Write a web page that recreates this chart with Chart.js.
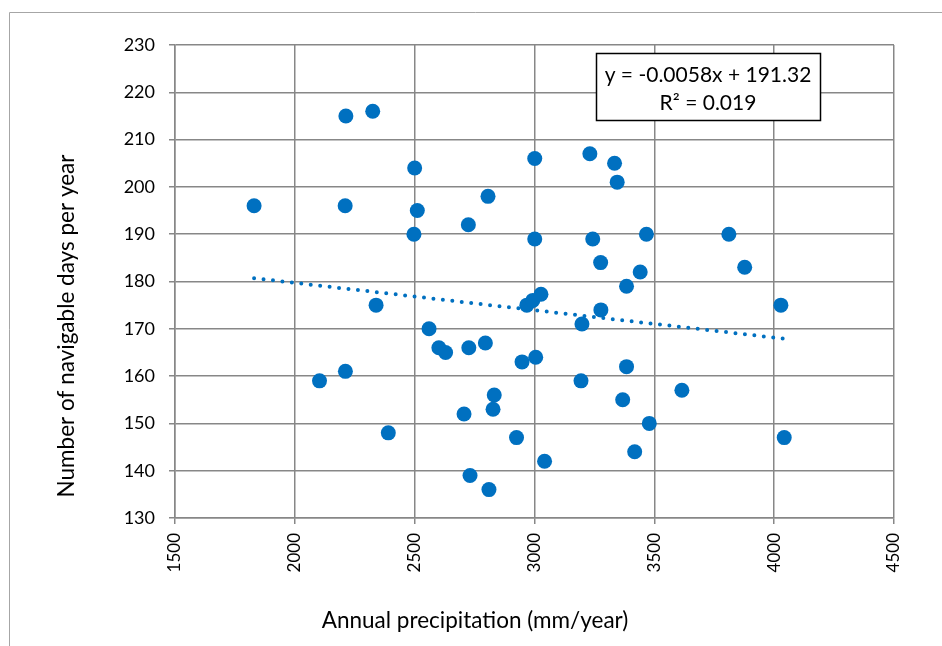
<!DOCTYPE html>
<html>
<head>
<meta charset="utf-8">
<title>Navigable days vs annual precipitation</title>
<script src="https://cdn.jsdelivr.net/npm/chart.js@4"></script>
<style>
    body { margin: 0; background: #fff; }
    #chart { display: block; }
</style>
</head>
<body>
<canvas id="chart" width="942" height="646"></canvas>
<script>
// annual precipitation (mm/year) for each station
const precipitation = [
    1830, 2213, 2325, 2210, 2500, 2511, 2497, 2724, 2806, 3001,
    3001, 3231, 3334, 3345, 3243, 3467, 3811, 3276, 3441, 3877,
    3384, 2339, 2560, 2601, 2629, 2726, 2795, 2948, 3005, 2968,
    2993, 3027, 2103, 2211, 2390, 2832, 2827, 2706, 2925, 3042,
    2731, 2810, 4028, 3277, 3198, 3384, 3194, 3368, 3615, 3479,
    4042, 3418
];
// navigable days per year, same order
const navigableDays = [
    196, 215, 216, 196, 204, 195, 190, 192, 198, 206,
    189, 207, 205, 201, 189, 190, 190, 184, 182, 183,
    179, 175, 170, 166, 165, 166, 167, 163, 164, 175,
    176, 177.3, 159, 161, 148, 156, 153, 152, 147, 142,
    139, 136, 175, 174, 171, 162, 159, 155, 157, 150,
    147, 144
];

// linear trendline end points as drawn
const trendX = [1830, 4042];
const trendY = [180.7, 167.9];

const xTicks = [1500, 2000, 2500, 3000, 3500, 4000, 4500];
const yTicks = [130, 140, 150, 160, 170, 180, 190, 200, 210, 220, 230];

const xTitle = 'Annual precipitation (mm/year)';
const yTitle = 'Number of navigable days per year';
const equationLines = ['y = -0.0058x + 191.32', 'R² = 0.019'];

const BLUE = '#0070C0';
const GRID = '#878787';
const FONT = 'Lato, "Open Sans", sans-serif';

const scatterPoints = precipitation.map((x, i) => ({ x: x, y: navigableDays[i] }));
const trendPoints = trendX.map((x, i) => ({ x: x, y: trendY[i] }));

// frame, axis titles and equation box
const decorations = {
    id: 'decorations',
    beforeDraw(chart) {
        const ctx = chart.ctx;
        ctx.save();
        ctx.fillStyle = '#fff';
        ctx.fillRect(0, 0, chart.width, chart.height);
        ctx.strokeStyle = '#a6a6a6';
        ctx.lineWidth = 1;
        ctx.beginPath();
        ctx.moveTo(9.5, chart.height);
        ctx.lineTo(9.5, 12.5);
        ctx.lineTo(chart.width, 12.5);
        ctx.stroke();
        ctx.restore();
    },
    afterDraw(chart) {
        const ctx = chart.ctx;
        ctx.save();
        ctx.fillStyle = '#000';
        ctx.font = '22.5px ' + FONT;
        ctx.textAlign = 'center';
        ctx.textBaseline = 'middle';
        ctx.fillText(xTitle, 475, 621);

        ctx.translate(67, 326);
        ctx.rotate(-Math.PI / 2);
        ctx.fillText(yTitle, 0, 0);
        ctx.restore();

        // equation box
        ctx.save();
        ctx.fillStyle = '#fff';
        ctx.fillRect(596, 53, 225, 68);
        ctx.strokeStyle = '#000';
        ctx.lineWidth = 1.5;
        ctx.strokeRect(596.5, 53.5, 224, 67);
        ctx.fillStyle = '#000';
        ctx.font = '21px ' + FONT;
        ctx.textAlign = 'center';
        ctx.textBaseline = 'alphabetic';
        ctx.fillText(equationLines[0], 708, 82);
        ctx.fillText(equationLines[1], 708, 110);
        ctx.restore();
    }
};

new Chart(document.getElementById('chart'), {
    type: 'scatter',
    data: {
        datasets: [
            {
                label: 'Stations',
                data: scatterPoints,
                backgroundColor: BLUE,
                borderWidth: 0,
                pointRadius: 7.5,
                pointHoverRadius: 7.5
            },
            {
                type: 'line',
                label: 'Linear trend',
                data: trendPoints,
                borderColor: BLUE,
                borderWidth: 4,
                borderDash: [0, 9.5],
                borderCapStyle: 'round',
                pointRadius: 0,
                fill: false
            }
        ]
    },
    options: {
        responsive: false,
        animation: false,
        devicePixelRatio: 1,
        layout: { autoPadding: false, padding: { left: 0, top: 45, right: 48, bottom: 0 } },
        plugins: {
            legend: { display: false },
            tooltip: { enabled: false }
        },
        scales: {
            x: {
                type: 'linear',
                min: xTicks[0],
                max: xTicks[xTicks.length - 1],
                afterFit: scale => { scale.height = 128; },
                afterBuildTicks: scale => { scale.ticks = xTicks.map(v => ({ value: v })); },
                grid: { color: GRID, lineWidth: 1.5, tickLength: 6, tickColor: GRID },
                border: { color: GRID, width: 1.5 },
                ticks: {
                    color: '#000',
                    font: { family: FONT, size: 17 },
                    minRotation: 90,
                    maxRotation: 90,
                    padding: 9,
                    callback: v => String(v)
                }
            },
            y: {
                min: yTicks[0],
                max: yTicks[yTicks.length - 1],
                afterFit: scale => { scale.width = 175; },
                afterBuildTicks: scale => { scale.ticks = yTicks.map(v => ({ value: v })); },
                grid: { color: GRID, lineWidth: 1.5, tickLength: 6, tickColor: GRID },
                border: { color: GRID, width: 1.5 },
                ticks: {
                    color: '#000',
                    font: { family: FONT, size: 18 },
                    padding: 14,
                    callback: v => String(v)
                }
            }
        }
    },
    plugins: [decorations]
});
</script>
</body>
</html>
